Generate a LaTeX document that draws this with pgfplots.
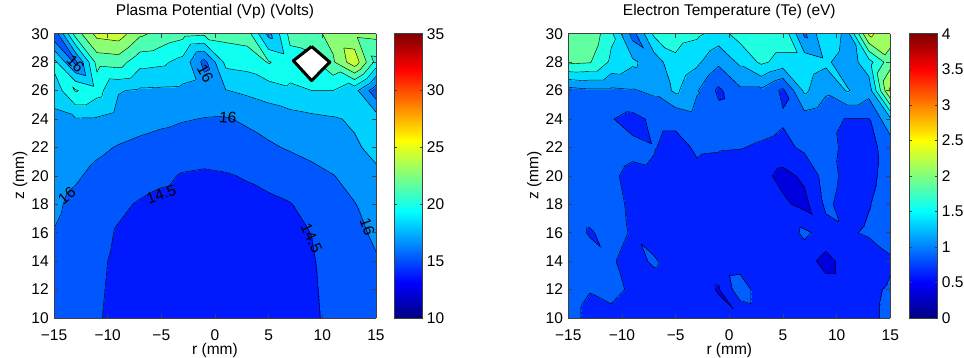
\documentclass[border=0pt]{standalone}
\usepackage{pgfplots}
\usepackage{pgfplotstable}
\pgfplotsset{compat=1.18}
\usepackage{fontspec}
\setmainfont{Liberation Sans}
\pgfplotsset{
  colormap={vpcm}{rgb255(10)=(0,25,255) rgb255(14.5)=(0,87,255) rgb255(16)=(0,148,255) rgb255(17.5)=(0,209,255) rgb255(19)=(15,255,240) rgb255(20.5)=(77,255,178) rgb255(22)=(138,255,117) rgb255(23.5)=(199,255,56) rgb255(25)=(255,240,0) rgb255(35)=(255,240,0)},
  colormap={tecm}{rgb255(0)=(0,0,223) rgb255(0.5)=(0,32,255) rgb255(0.75)=(0,96,255) rgb255(1)=(0,159,255) rgb255(1.25)=(0,223,255) rgb255(1.5)=(32,255,223) rgb255(1.75)=(96,255,159) rgb255(2)=(159,255,96) rgb255(2.25)=(223,255,32) rgb255(4)=(223,255,32)},
  panel/.style={
    view={0}{90}, scale only axis, width=322bp, height=284.3bp,
    enlargelimits=false, xmin=-15, xmax=15, ymin=10, ymax=30, ztick=\empty,
    xtick={-15,-10,...,15}, xticklabels={−15,−10,−5,0,5,10,15},
    ytick={10,12,...,30}, yticklabels={10,12,14,16,18,20,22,24,26,28,30},
    /pgf/number format/assume math mode=true,
    tick align=inside, major tick length=4bp, axis on top,
    axis line style={line width=0.6bp, black!75}, tick style={line width=0.5bp, black!75},
    xticklabel style={yshift=-6bp},
    xlabel={r (mm)}, ylabel={z (mm)},
    title style={at={(axis description cs:0.5,1.0423)}, anchor=base},
    xlabel style={at={(axis description cs:0.5,-0.127)}, anchor=base},
    ylabel style={at={(axis description cs:-0.093,0.5)}, anchor=base},
  },
  cbar/.style={
    scale only axis, width=28.7bp, height=284.3bp, anchor=south west,
    xmin=0, xmax=1, enlargelimits=false, xtick=\empty, yticklabel pos=right,
    /pgf/number format/assume math mode=true,
    tick align=inside, major tick length=3bp, axis on top, colormap/jet,
    axis line style={line width=0.6bp, black!75}, tick style={line width=0.5bp, black!75},
    yticklabel style={inner sep=0pt, xshift=4bp},
  },
}
% ---------- contour lines from the same grids (triangles as in the fill) ----------
\newif\ifclA \newif\ifclB \newif\ifclC
\def\clpt#1#2#3#4#5#6{%
  \pgfmathparse{(\cllev-(#1))/((#4)-(#1))}\let\clt\pgfmathresult
  \pgfmathparse{(#2)+\clt*((#5)-(#2))}\let\clx\pgfmathresult
  \pgfmathparse{(#3)+\clt*((#6)-(#3))}\let\cly\pgfmathresult
  \xdef\cllist{\cllist(\clx,\cly,40)}}
\def\clsep{\xdef\cllist{\cllist(nan,nan,nan)}}
\def\cltri#1#2#3#4#5#6#7#8#9{%
  \ifdim#1pt>\cllev pt\relax\clAtrue\else\clAfalse\fi
  \ifdim#4pt>\cllev pt\relax\clBtrue\else\clBfalse\fi
  \ifdim#7pt>\cllev pt\relax\clCtrue\else\clCfalse\fi
  \def\clodd{0}%
  \ifclA
    \ifclB \ifclC\else\def\clodd{3}\fi
    \else \ifclC\def\clodd{2}\else\def\clodd{1}\fi \fi
  \else
    \ifclB \ifclC\def\clodd{1}\else\def\clodd{2}\fi
    \else \ifclC\def\clodd{3}\fi \fi
  \fi
  \ifcase\clodd\relax
  \or \clpt{#1}{#2}{#3}{#4}{#5}{#6}\clpt{#1}{#2}{#3}{#7}{#8}{#9}\clsep
  \or \clpt{#4}{#5}{#6}{#1}{#2}{#3}\clpt{#4}{#5}{#6}{#7}{#8}{#9}\clsep
  \or \clpt{#7}{#8}{#9}{#1}{#2}{#3}\clpt{#7}{#8}{#9}{#4}{#5}{#6}\clsep
  \fi}
\def\clrun#1#2{%
  \gdef\cllist{}%
  \foreach \clL in {#2}{%
    \edef\cllev{\clL}%
    \foreach \clj in {0,...,9}{%
      \foreach \cli in {0,...,14}{%
        \edef\xL{\the\numexpr-15+2*\cli\relax}%
        \edef\xR{\the\numexpr-13+2*\cli\relax}%
        \edef\yB{\the\numexpr10+2*\clj\relax}%
        \edef\yT{\the\numexpr12+2*\clj\relax}%
        \edef\vBL{\csname #1@\the\numexpr\clj*16+\cli\relax\endcsname}%
        \edef\vBR{\csname #1@\the\numexpr\clj*16+\cli+1\relax\endcsname}%
        \edef\vTL{\csname #1@\the\numexpr\clj*16+\cli+16\relax\endcsname}%
        \edef\vTR{\csname #1@\the\numexpr\clj*16+\cli+17\relax\endcsname}%
        \edef\cldo{\noexpand\cltri{\vBL}{\xL}{\yB}{\vBR}{\xR}{\yB}{\vTL}{\xL}{\yT}%
                   \noexpand\cltri{\vBR}{\xR}{\yB}{\vTL}{\xL}{\yT}{\vTR}{\xR}{\yT}}%
        \cldo}}}}
\newcommand\drawlines[1]{\addplot3[black, line width=0.45bp, mark=none, unbounded coords=jump, forget plot] coordinates {#1};}
\begin{document}
\fontsize{15.5bp}{18.6bp}\selectfont
% Plasma potential Vp (V), grid r=-15..15 step 2, z=10..30 step 2
\pgfplotstableread[row sep=\\]{
r z v\\
-15 10 15.4\\ -13 10 15.0\\ -11 10 14.6\\ -9 10 14.2\\ -7 10 13.9\\ -5 10 13.7\\ -3 10 13.6\\ -1 10 13.55\\ 1 10 13.55\\ 3 10 13.6\\ 5 10 13.75\\ 7 10 13.95\\ 9 10 14.3\\ 11 10 14.8\\ 13 10 15.2\\ 15 10 15.6\\
-15 12 15.5\\ -13 12 15.1\\ -11 12 14.65\\ -9 12 14.25\\ -7 12 14.0\\ -5 12 13.8\\ -3 12 13.7\\ -1 12 13.6\\ 1 12 13.6\\ 3 12 13.7\\ 5 12 13.8\\ 7 12 14.0\\ 9 12 14.35\\ 11 12 14.85\\ 13 12 15.3\\ 15 12 15.7\\
-15 14 15.7\\ -13 14 15.2\\ -11 14 14.7\\ -9 14 14.3\\ -7 14 14.0\\ -5 14 13.85\\ -3 14 13.75\\ -1 14 13.7\\ 1 14 13.7\\ 3 14 13.8\\ 5 14 13.9\\ 7 14 14.1\\ 9 14 14.4\\ 11 14 14.95\\ 13 14 15.5\\ 15 14 15.9\\
-15 16 15.95\\ -13 16 15.4\\ -11 16 14.85\\ -9 16 14.4\\ -7 16 14.1\\ -5 16 13.95\\ -3 16 13.85\\ -1 16 13.8\\ 1 16 13.8\\ 3 16 13.9\\ 5 16 14.05\\ 7 16 14.25\\ 9 16 14.52\\ 11 16 15.1\\ 13 16 15.7\\ 15 16 16.2\\
-15 18 16.3\\ -13 18 15.6\\ -11 18 15.0\\ -9 18 14.7\\ -7 18 14.4\\ -5 18 14.15\\ -3 18 14.05\\ -1 18 14.0\\ 1 18 14.0\\ 3 18 14.1\\ 5 18 14.25\\ 7 18 14.45\\ 9 18 14.9\\ 11 18 15.4\\ 13 18 15.95\\ 15 18 16.6\\
-15 20 16.6\\ -13 20 16.2\\ -11 20 15.6\\ -9 20 15.25\\ -7 20 14.95\\ -5 20 14.75\\ -3 20 14.4\\ -1 20 14.3\\ 1 20 14.4\\ 3 20 14.6\\ 5 20 14.85\\ 7 20 15.1\\ 9 20 15.5\\ 11 20 15.95\\ 13 20 16.5\\ 15 20 17.2\\
-15 22 16.9\\ -13 22 16.8\\ -11 22 16.3\\ -9 22 15.9\\ -7 22 15.6\\ -5 22 15.35\\ -3 22 15.2\\ -1 22 15.1\\ 1 22 15.2\\ 3 22 15.5\\ 5 22 15.8\\ 7 22 16.15\\ 9 22 16.5\\ 11 22 16.9\\ 13 22 17.3\\ 15 22 17.9\\
-15 24 17.2\\ -13 24 17.4\\ -11 24 17.35\\ -9 24 16.9\\ -7 24 16.6\\ -5 24 16.35\\ -3 24 16.1\\ -1 24 15.95\\ 1 24 15.9\\ 3 24 16.2\\ 5 24 16.6\\ 7 24 16.9\\ 9 24 17.15\\ 11 24 17.35\\ 13 24 17.7\\ 15 24 18.3\\
-15 26 18.0\\ -13 26 20.65\\ -11 26 19.6\\ -9 26 17.6\\ -7 26 17.3\\ -5 26 17.25\\ -3 26 17.2\\ -1 26 16.9\\ 1 26 17.45\\ 3 26 17.8\\ 5 26 18.2\\ 7 26 18.7\\ 9 26 19.0\\ 11 26 19.0\\ 13 26 18.0\\ 15 26 15.0\\
-15 28 19.5\\ -13 28 15.6\\ -11 28 21.0\\ -9 28 21.2\\ -7 28 19.5\\ -5 28 19.3\\ -3 28 18.5\\ -1 28 15.5\\ 1 28 19.4\\ 3 28 19.6\\ 5 28 20.6\\ 7 28 19.8\\ 9 28 20.0\\ 11 28 21.8\\ 13 28 24.5\\ 15 28 20.0\\
-15 30 14.8\\ -13 30 21.2\\ -11 30 24.0\\ -9 30 24.3\\ -7 30 22.3\\ -5 30 21.5\\ -3 30 21.0\\ -1 30 20.8\\ 1 30 21.0\\ 3 30 21.2\\ 5 30 17.0\\ 7 30 21.0\\ 9 30 21.5\\ 11 30 22.5\\ 13 30 22.3\\ 15 30 22.5\\
}\vptab
% Electron temperature Te (eV), same grid
\pgfplotstableread[row sep=\\]{
r z v\\
-15 10 0.85\\ -13 10 0.68\\ -11 10 0.70\\ -9 10 0.62\\ -7 10 0.60\\ -5 10 0.60\\ -3 10 0.58\\ -1 10 0.60\\ 1 10 0.51\\ 3 10 0.60\\ 5 10 0.60\\ 7 10 0.60\\ 9 10 0.62\\ 11 10 0.65\\ 13 10 0.70\\ 15 10 0.80\\
-15 12 0.85\\ -13 12 0.76\\ -11 12 0.80\\ -9 12 0.72\\ -7 12 0.65\\ -5 12 0.62\\ -3 12 0.60\\ -1 12 0.48\\ 1 12 0.90\\ 3 12 0.60\\ 5 12 0.60\\ 7 12 0.62\\ 9 12 0.60\\ 11 12 0.60\\ 13 12 0.70\\ 15 12 0.78\\
-15 14 0.86\\ -13 14 0.85\\ -11 14 0.77\\ -9 14 0.68\\ -7 14 0.78\\ -5 14 0.62\\ -3 14 0.60\\ -1 14 0.60\\ 1 14 0.62\\ 3 14 0.60\\ 5 14 0.60\\ 7 14 0.60\\ 9 14 0.42\\ 11 14 0.60\\ 13 14 0.60\\ 15 14 0.72\\
-15 16 0.86\\ -13 16 0.73\\ -11 16 0.82\\ -9 16 0.73\\ -7 16 0.62\\ -5 16 0.60\\ -3 16 0.60\\ -1 16 0.58\\ 1 16 0.52\\ 3 16 0.58\\ 5 16 0.60\\ 7 16 0.80\\ 9 16 0.65\\ 11 16 0.72\\ 13 16 0.78\\ 15 16 0.85\\
-15 18 0.85\\ -13 18 0.84\\ -11 18 0.80\\ -9 18 0.72\\ -7 18 0.62\\ -5 18 0.60\\ -3 18 0.58\\ -1 18 0.58\\ 1 18 0.60\\ 3 18 0.60\\ 5 18 0.55\\ 7 18 0.42\\ 9 18 0.80\\ 11 18 0.65\\ 13 18 0.74\\ 15 18 0.85\\
-15 20 0.85\\ -13 20 0.84\\ -11 20 0.78\\ -9 20 0.70\\ -7 20 0.72\\ -5 20 0.60\\ -3 20 0.70\\ -1 20 0.65\\ 1 20 0.60\\ 3 20 0.58\\ 5 20 0.42\\ 7 20 0.55\\ 9 20 0.85\\ 11 20 0.68\\ 13 20 0.70\\ 15 20 0.83\\
-15 22 0.86\\ -13 22 0.85\\ -11 22 0.84\\ -9 22 0.80\\ -7 22 0.76\\ -5 22 0.68\\ -3 22 0.78\\ -1 22 0.77\\ 1 22 0.76\\ 3 22 0.72\\ 5 22 0.68\\ 7 22 0.80\\ 9 22 0.82\\ 11 22 0.70\\ 13 22 0.68\\ 15 22 0.85\\
-15 24 0.88\\ -13 24 0.85\\ -11 24 0.76\\ -9 24 0.68\\ -7 24 0.80\\ -5 24 0.80\\ -3 24 0.90\\ -1 24 0.85\\ 1 24 0.88\\ 3 24 0.85\\ 5 24 0.78\\ 7 24 0.88\\ 9 24 0.80\\ 11 24 0.74\\ 13 24 0.74\\ 15 24 1.20\\
-15 26 0.90\\ -13 26 0.95\\ -11 26 0.95\\ -9 26 0.98\\ -7 26 1.05\\ -5 26 1.30\\ -3 26 1.02\\ -1 26 0.70\\ 1 26 0.95\\ 3 26 0.95\\ 5 26 0.70\\ 7 26 1.30\\ 9 26 1.05\\ 11 26 1.27\\ 13 26 1.10\\ 15 26 2.30\\
-15 28 1.80\\ -13 28 1.77\\ -11 28 1.45\\ -9 28 1.30\\ -7 28 1.10\\ -5 28 1.45\\ -3 28 1.30\\ -1 28 1.05\\ 1 28 1.30\\ 3 28 1.55\\ 5 28 1.40\\ 7 28 1.40\\ 9 28 1.30\\ 11 28 1.10\\ 13 28 1.40\\ 15 28 1.90\\
-15 30 1.95\\ -13 30 1.95\\ -11 30 1.55\\ -9 30 0.90\\ -7 30 1.55\\ -5 30 1.60\\ -3 30 1.55\\ -1 30 1.40\\ 1 30 1.60\\ 3 30 1.70\\ 5 30 1.70\\ 7 30 0.95\\ 9 30 1.50\\ 11 30 1.15\\ 13 30 2.30\\ 15 30 2.10\\
}\tetab
\pgfplotstableforeachcolumnelement{v}\of\vptab\as\cval{\expandafter\xdef\csname vp@\pgfplotstablerow\endcsname{\cval}}%
\pgfplotstableforeachcolumnelement{v}\of\tetab\as\cval{\expandafter\xdef\csname te@\pgfplotstablerow\endcsname{\cval}}%
\clrun{vp}{14.5,16,17.5,19,20.5,22,23.5}\global\let\vplines\cllist
\clrun{te}{0.5,0.75,1,1.25,1.5,1.75,2,2.25}\global\let\telines\cllist
\begin{tikzpicture}
\useasboundingbox (0,0) rectangle (964bp,358bp);
% ---------------- Plasma potential ----------------
\begin{axis}[panel, at={(54bp,40bp)}, anchor=south west,
  title={Plasma Potential (Vp) (Volts)},
  point meta min=10, point meta max=35]
\addplot3[surf, shader=interp, colormap name=vpcm, colormap access=piecewise constant, mesh/cols=16] table[x=r, y=z, z=v] {\vptab};
\expandafter\drawlines\expandafter{\vplines}
\addplot3[fill=white, draw=black, line width=3bp, line join=round, mark=none] coordinates {(9,29.1,45) (10.7,28,45) (9,26.7,45) (7.3,28.1,45) (9,29.1,45)};
\node[rotate=-45] at (axis cs:-13,27.9,45) {16};
\node[rotate=-60] at (axis cs:-0.9,27.2,45) {16};
\node[rotate=-5] at (axis cs:1.2,24.1,45) {16};
\node[rotate=40] at (axis cs:-13.8,18.6,45) {16};
\node[rotate=20] at (axis cs:-5,18.7,45) {14.5};
\node[rotate=-65] at (axis cs:9,15.6,45) {14.5};
\node[rotate=-70] at (axis cs:14.2,16.4,45) {16};
\end{axis}
\begin{axis}[cbar, at={(394bp,40bp)}, ymin=10, ymax=35,
  ytick={10,15,...,35}, yticklabels={10,15,20,25,30,35},
  point meta min=10, point meta max=35]
\addplot[patch, patch type=rectangle, shader=interp, point meta=y] coordinates {(0,10) (1,10) (1,35) (0,35)};
\end{axis}
% ---------------- Electron temperature ----------------
\begin{axis}[panel, at={(568.3bp,40bp)}, anchor=south west,
  title={Electron Temperature (Te) (eV)},
  point meta min=0, point meta max=4]
\addplot3[surf, shader=interp, colormap name=tecm, colormap access=piecewise constant, mesh/cols=16] table[x=r, y=z, z=v] {\tetab};
\expandafter\drawlines\expandafter{\telines}
\end{axis}
\begin{axis}[cbar, at={(909bp,40bp)}, ymin=0, ymax=4,
  ytick={0,0.5,...,4}, yticklabels={0,0.5,1,1.5,2,2.5,3,3.5,4},
  point meta min=0, point meta max=4]
\addplot[patch, patch type=rectangle, shader=interp, point meta=y] coordinates {(0,0) (1,0) (1,4) (0,4)};
\end{axis}
\end{tikzpicture}
\end{document}
